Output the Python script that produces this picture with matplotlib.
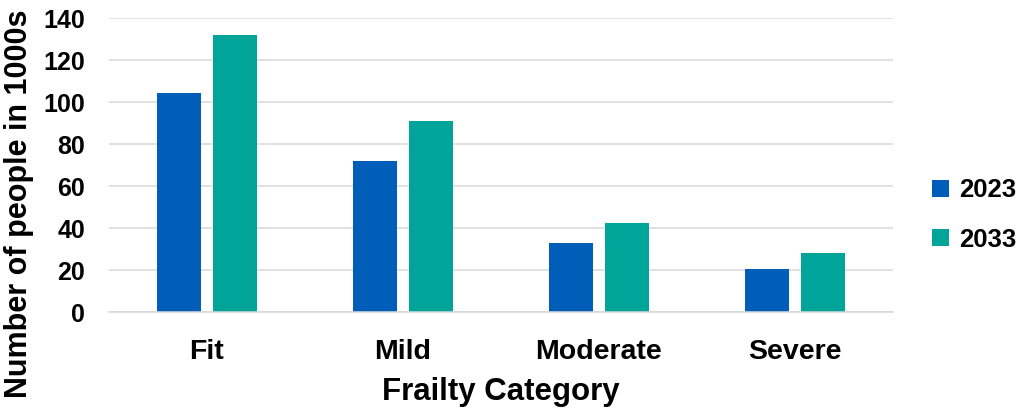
import matplotlib.pyplot as plt
import numpy as np

plt.rcParams['font.family'] = ['Liberation Sans', 'DejaVu Sans']
plt.rcParams['font.weight'] = 'bold'

categories = ['Fit', 'Mild', 'Moderate', 'Severe']
years = ['2023', '2033']
people_2023 = [104.3, 72.0, 33.0, 20.7]
people_2033 = [131.9, 91.0, 42.5, 28.3]
colors = ['#005EB8', '#00A499']

fig = plt.figure(figsize=(10.32, 4.11), dpi=100)
ax = fig.add_axes([0.1056, 0.2397, 0.7597, 0.7165])

x = np.arange(len(categories))
w = 0.224
off = 0.143
ax.bar(x - off, people_2023, w, color=colors[0], label=years[0])
ax.bar(x + off, people_2033, w, color=colors[1], label=years[1])

ax.set_xlim(-0.5, len(categories) - 0.5)
ax.set_ylim(0, 140)
ax.set_yticks(range(0, 141, 20))
ax.set_xticks(x)
ax.set_xticklabels(categories, fontsize=20.5, fontweight='bold')
ax.tick_params(axis='y', labelsize=18, length=0, pad=17)
ax.tick_params(axis='x', length=0, pad=19)

ax.set_axisbelow(True)
ax.yaxis.grid(True, color='#d9d9d9', linewidth=1.1)
for s in ['top', 'right', 'left']:
    ax.spines[s].set_visible(False)
ax.spines['bottom'].set_color('#d9d9d9')
ax.spines['bottom'].set_linewidth(1.1)

ax.set_xlabel('Frailty Category', fontsize=22.5, fontweight='bold', labelpad=9)
fig.text(0.018, 0.505, 'Number of people in 1000s', rotation=90, ha='center',
         va='center', fontsize=22, fontweight='bold')

fig.legend(loc='center left', bbox_to_anchor=(0.881, 0.477), frameon=False,
           fontsize=18.5, handlelength=0.65, handleheight=0.65,
           handletextpad=0.4, labelspacing=0.98)

fig.savefig('out.png', dpi=100)
